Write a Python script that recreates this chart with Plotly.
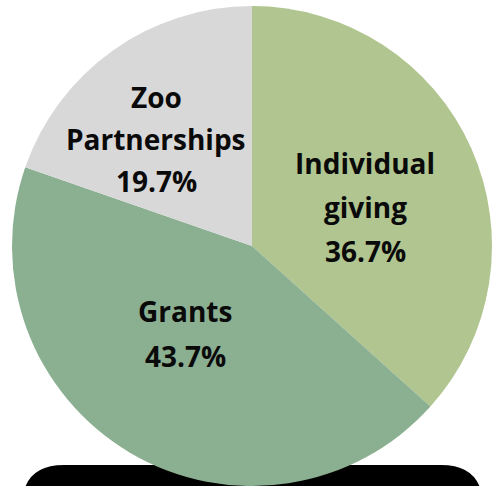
import plotly.graph_objects as go

labels = ["Individual giving", "Grants", "Zoo Partnerships"]
values = [36.7, 43.7, 19.7]
colors = ["#B0C58F", "#8BAF91", "#D8D8D8"]
label_lines = [["Individual", "giving"], ["Grants"], ["Zoo", "Partnerships"]]
# pixel centre x and top-line y of each label block, and line spacing
label_pos = [(365, 161), (185, 309), (156, 95)]
line_gap = [44, 45, 42]

W, H = 496, 486
cx, cy, r = 252, 246, 240

fig = go.Figure(go.Pie(
    labels=labels, values=values, sort=False, direction="clockwise", rotation=0,
    marker=dict(colors=colors, line=dict(width=0)),
    textinfo="none", hoverinfo="label+percent", showlegend=False,
    domain=dict(x=[(cx - r) / W, (cx + r) / W], y=[(H - cy - r) / H, (H - cy + r) / H]),
))

for lines, v, (px, py), gap in zip(label_lines, values, label_pos, line_gap):
    all_lines = lines + [f"{v:.1f}%"]
    for i, t in enumerate(all_lines):
        fig.add_annotation(x=px / W, y=1 - (py + i * gap + 2) / H, xref="paper", yref="paper",
                           text=t, showarrow=False, xanchor="center", yanchor="middle",
                           font=dict(family="Open Sans", size=28, color="#0a0a0a", weight="bold"))

def P(x, y):
    return f"{x / W:.5f},{1 - y / H:.5f}"

x0, x1, y0, y1, rad = 22, 483, 465, 560, 42
path = (f"M {P(x0, y1)} L {P(x0, y0 + rad)} Q {P(x0, y0)} {P(x0 + rad, y0)} "
        f"L {P(x1 - rad, y0)} Q {P(x1, y0)} {P(x1, y0 + rad)} L {P(x1, y1)} Z")
fig.add_shape(type="path", path=path, xref="paper", yref="paper",
              fillcolor="black", line=dict(width=0), layer="below")

fig.update_layout(width=W, height=H, margin=dict(l=0, r=0, t=0, b=0),
                  paper_bgcolor="white", plot_bgcolor="white")
fig.write_html("out.html", config={"displayModeBar": False},
               post_script="document.body.style.margin='0';")
